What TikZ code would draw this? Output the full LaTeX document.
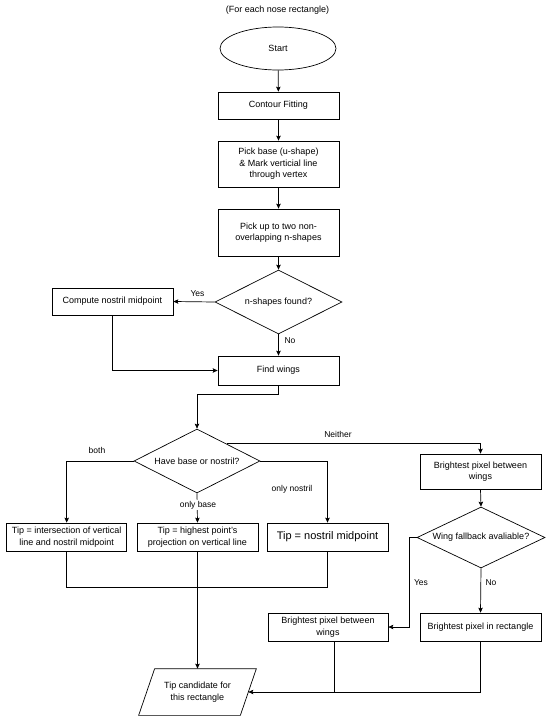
\documentclass[tikz,border=0pt]{standalone}
\usepackage{fontspec}
\setmainfont{Liberation Sans}
\usetikzlibrary{shapes.geometric,arrows.meta}
\begin{document}
\begin{tikzpicture}[x=1pt,y=-1pt,line width=0.7pt,
  >={Stealth[length=5pt,width=4.5pt,inset=1pt]},
  font=\fontsize{9}{11.5}\selectfont,
  box/.style={draw,rectangle,minimum width=121pt,inner sep=0pt,align=center},
  dia/.style={draw,diamond,inner sep=0pt},
  lbl/.style={font=\fontsize{8.5}{10}\selectfont,inner sep=1pt}]
\useasboundingbox (0,0) rectangle (550,723);
\node (title) at (277.5,10) {(For each nose rectangle)};
\node[draw,ellipse,minimum width=116pt,minimum height=43pt,inner sep=0pt] (start) at (278,48.5) {Start};
\node[box,minimum height=27pt] (contour) at (278.5,105.5) {Contour Fitting};
\node[box,minimum height=46pt] (pickbase) at (278.5,164) {Pick base (u-shape)\\\& Mark verticial line\\through vertex};
\node[box,minimum height=47pt] (pickup) at (278.5,232.5) {Pick up to two non-\\overlapping n-shapes};
\node[dia,minimum width=127pt,minimum height=64pt,label=center:{n-shapes found?}] (dec1) at (278.5,302) {};
\node[box,minimum height=27pt] (compute) at (112.5,301.5) {Compute nostril midpoint};
\node[box,minimum height=29pt] (wings) at (278.5,370.5) {Find wings};
\node[dia,minimum width=126pt,minimum height=64pt,label=center:{Have base or nostril?}] (dec2) at (197,461) {};
\node[box,minimum height=35pt] (bright1) at (480.5,471.5) {Brightest pixel between\\wings};
\node[box,minimum width=120pt,minimum height=28pt] (tip1) at (66.7,537) {Tip = intersection of vertical\\line and nostril midpoint};
\node[box,minimum height=28pt] (tip2) at (197.5,537) {Tip = highest point's\\projection on vertical line};
\node[box,minimum height=28pt,font=\fontsize{11}{13}\selectfont] (tip3) at (327.5,537) {Tip = nostril midpoint};
\node[dia,minimum width=128pt,minimum height=61pt,label=center:{Wing fallback avaliable?}] (dec3) at (481,537.5) {};
\node[box,minimum width=120pt,minimum height=28pt] (bright2) at (328,627) {Brightest pixel between\\wings};
\node[box,minimum height=28pt] (bright3) at (480.5,627) {Brightest pixel in rectangle};
\node[minimum width=101pt,minimum height=46pt,inner sep=0pt,align=center] (cand) at (197.5,692) {Tip candidate for\\this rectangle};
\draw ([xshift=8pt]cand.north west) -- ([xshift=8pt]cand.north east) -- ([xshift=-8pt]cand.south east) -- ([xshift=-8pt]cand.south west) -- cycle;
% connectors
\draw[->] (start) -- (contour);
\draw[->] (contour) -- (pickbase);
\draw[->] (pickbase) -- (pickup);
\draw[->] (pickup) -- (dec1);
\draw[->] (dec1.west) -- (compute.east);
\draw[->] (dec1.south) -- (wings.north);
\draw[->] (compute.south) |- (wings.west);
\coordinate (w1) at (278.5,394);
\draw[->] (wings.south) -- (w1) -| (dec2.north);
\draw[->] (dec2.30) -| (bright1.north);
\draw[->] (dec2.west) -| (tip1.north);
\draw[->] (dec2.south) -- (tip2.north);
\draw[->] (dec2.east) -| (tip3.north);
\draw[->] (bright1.south) -- (dec3.north);
\coordinate (ybend) at (409,537.5);
\draw[->] (dec3.west) -- (ybend) |- (bright2.east);
\draw[->] (dec3.south) -- (bright3.north);
\coordinate (m1) at (66.7,587);
\draw (tip1.south) -- (m1) -| (tip3.south);
\draw[->] (tip2.south) -- (cand.north);
\coordinate (j2) at (334,692);
\draw (bright2.south -| j2) -- (j2);
\draw[->] (bright3.south) |- (cand.east);
% labels
\node[lbl] (lyes1) at (197.5,294) {Yes};
\node[lbl] (lno1) at (290,341) {No};
\node[lbl] (lneither) at (338,434) {Neither};
\node[lbl] (lboth) at (97,450) {both};
\node[lbl,fill=white] (lbase) at (198,505) {only base};
\node[lbl] (lnostril) at (292,489) {only nostril};
\node[lbl] (lyes2) at (421,583) {Yes};
\node[lbl] (lno2) at (491,583) {No};
\end{tikzpicture}
\end{document}
